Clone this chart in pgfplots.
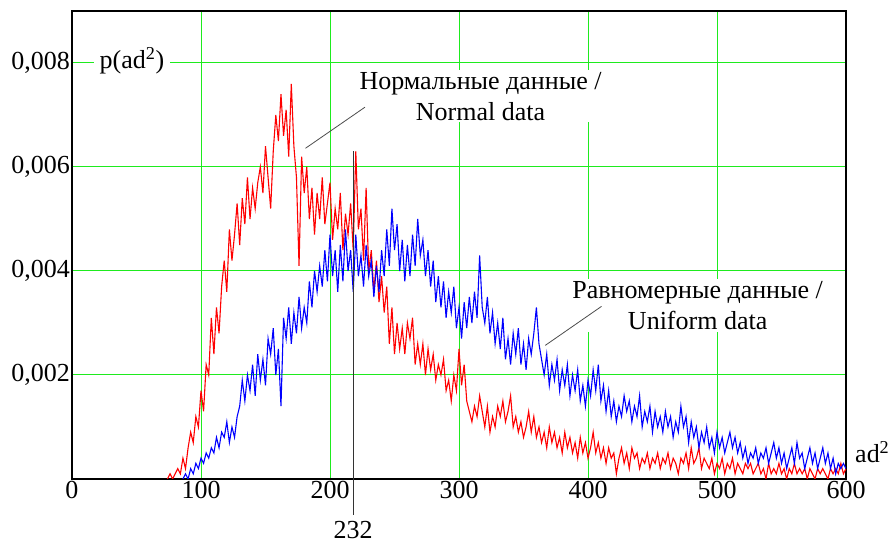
\documentclass[border=0pt]{standalone}
\usepackage{fontspec}
\setmainfont{Liberation Serif}
\usepackage{pgfplots}
\usepackage{pgfplotstable}
\pgfplotsset{compat=1.18}

\definecolor{gridgreen}{RGB}{30,235,30}

% normal data histogram
\pgfplotstableread[row sep=\\]{
x y\\
74 0\\ 76 0.0001\\ 78 0\\ 80 0.0001\\ 82 0.0002\\ 84 0.0001\\ 86 0.0004\\ 88 0.0002\\ 90 0.0006\\ 92 0.0009\\
94 0.0007\\ 96 0.0012\\ 98 0.0010\\ 100 0.0017\\ 102 0.0013\\ 104 0.0022\\ 106 0.0020\\ 108 0.0031\\ 110 0.0024\\ 112 0.0033\\
114 0.0028\\ 116 0.0037\\ 118 0.0042\\ 120 0.0036\\ 122 0.0048\\ 124 0.0042\\ 126 0.0047\\ 128 0.0053\\ 130 0.0045\\ 132 0.0054\\
134 0.0049\\ 136 0.0058\\ 138 0.0050\\ 140 0.0056\\ 142 0.0052\\ 144 0.0057\\ 146 0.0060\\ 148 0.0055\\ 150 0.0064\\ 152 0.0058\\
154 0.0052\\ 156 0.0063\\ 158 0.0070\\ 160 0.0065\\ 162 0.0074\\ 164 0.0066\\ 166 0.0071\\ 168 0.0062\\ 170 0.0076\\ 172 0.0064\\
174 0.0058\\ 176 0.0041\\ 178 0.0062\\ 180 0.0055\\ 182 0.0060\\ 184 0.0050\\ 186 0.0056\\ 188 0.0047\\ 190 0.0055\\ 192 0.0050\\
194 0.0058\\ 196 0.0049\\ 198 0.0053\\ 200 0.0057\\ 202 0.0046\\ 204 0.0052\\ 206 0.0048\\ 208 0.0055\\ 210 0.0044\\ 212 0.0051\\
214 0.0047\\ 216 0.0053\\ 218 0.0044\\ 220 0.0063\\ 222 0.0048\\ 224 0.0052\\ 226 0.0042\\ 228 0.0056\\ 230 0.0040\\ 232 0.0044\\
234 0.0036\\ 236 0.0042\\ 238 0.0034\\ 240 0.0039\\ 242 0.0032\\ 244 0.0037\\ 246 0.0026\\ 248 0.0033\\ 250 0.0024\\ 252 0.0030\\
254 0.0025\\ 256 0.0029\\ 258 0.0024\\ 260 0.0030\\ 262 0.0027\\ 264 0.0031\\ 266 0.0022\\ 268 0.0026\\ 270 0.0022\\ 272 0.0026\\
274 0.0020\\ 276 0.0025\\ 278 0.0021\\ 280 0.0024\\ 282 0.0019\\ 284 0.0022\\ 286 0.0020\\ 288 0.0023\\ 290 0.0017\\ 292 0.0019\\
294 0.0015\\ 296 0.0020\\ 298 0.0017\\ 300 0.0025\\ 302 0.0018\\ 304 0.0022\\ 306 0.0015\\ 308 0.0013\\ 310 0.0011\\ 312 0.0014\\
314 0.0012\\ 316 0.0016\\ 318 0.0013\\ 320 0.0010\\ 322 0.0014\\ 324 0.0009\\ 326 0.0012\\ 328 0.0010\\ 330 0.0014\\ 332 0.0012\\
334 0.0015\\ 336 0.0011\\ 338 0.0013\\ 340 0.0016\\ 342 0.0010\\ 344 0.0012\\ 346 0.0009\\ 348 0.0011\\ 350 0.0008\\ 352 0.0010\\
354 0.0013\\ 356 0.0009\\ 358 0.0012\\ 360 0.0008\\ 362 0.0010\\ 364 0.0007\\ 366 0.0009\\ 368 0.0006\\ 370 0.0010\\ 372 0.0007\\
374 0.0009\\ 376 0.0006\\ 378 0.0008\\ 380 0.0005\\ 382 0.0009\\ 384 0.0006\\ 386 0.0008\\ 388 0.0005\\ 390 0.0007\\ 392 0.0004\\
394 0.0008\\ 396 0.0005\\ 398 0.0007\\ 400 0.0004\\ 402 0.0006\\ 404 0.0009\\ 406 0.0005\\ 408 0.0007\\ 410 0.0004\\ 412 0.0006\\
414 0.0003\\ 416 0.0006\\ 418 0.0004\\ 420 0.0005\\ 422 0.0001\\ 424 0.0004\\ 426 0.0006\\ 428 0.0003\\ 430 0.0005\\ 432 0.0002\\
434 0.0006\\ 436 0.0004\\ 438 0.0005\\ 440 0.0002\\ 442 0.0004\\ 444 0.0003\\ 446 0.0005\\ 448 0.0002\\ 450 0.0004\\ 452 0.0003\\
454 0.0005\\ 456 0.0002\\ 458 0.0004\\ 460 0.0003\\ 462 0.0005\\ 464 0.0002\\ 466 0.0004\\ 468 0.0003\\ 470 0.0001\\ 472 0.0004\\
474 0.0003\\ 476 0.0005\\ 478 0.0002\\ 480 0.0006\\ 482 0.0003\\ 484 0.0004\\ 486 0.0006\\ 488 0.0002\\ 490 0.0004\\ 492 0.0003\\
494 0.0002\\ 496 0.0004\\ 498 0.0001\\ 500 0.0003\\ 502 0.0002\\ 504 0.0004\\ 506 0.0001\\ 508 0.0003\\ 510 0.0002\\ 512 0.0004\\
514 0.0001\\ 516 0.0003\\ 518 0.0002\\ 520 0.0001\\ 522 0.0003\\ 524 0.0002\\ 526 0.0003\\ 528 0.0001\\ 530 0.0002\\ 532 0.0003\\
534 0.0001\\ 536 0.0002\\ 538 0\\ 540 0.0003\\ 542 0.0001\\ 544 0.0002\\ 546 0.0001\\ 548 0.0003\\ 550 0.0001\\ 552 0.0002\\
554 0\\ 556 0.0002\\ 558 0.0001\\ 560 0.0003\\ 562 0.0001\\ 564 0.0002\\ 566 0.0001\\ 568 0.0002\\ 570 0\\ 572 0.0002\\
574 0.0001\\ 576 0\\ 578 0.0002\\ 580 0.0001\\ 582 0.0002\\ 584 0.0001\\ 586 0\\ 588 0.0002\\ 590 0.0001\\ 592 0.0002\\
594 0.0001\\ 596 0.0003\\ 598 0.0001\\ 600 0.0002\\
}\normaldata

% uniform data histogram
\pgfplotstableread[row sep=\\]{
x y\\
86 0\\ 88 0.0001\\ 90 0\\ 92 0.0002\\ 94 0.0001\\ 96 0.0003\\ 98 0.0002\\ 100 0.0004\\ 102 0.0003\\ 104 0.0005\\
106 0.0004\\ 108 0.0006\\ 110 0.0005\\ 112 0.0008\\ 114 0.0006\\ 116 0.0009\\ 118 0.0008\\ 120 0.0011\\ 122 0.0007\\ 124 0.0010\\
126 0.0008\\ 128 0.0012\\ 130 0.0014\\ 132 0.0019\\ 134 0.0015\\ 136 0.0020\\ 138 0.0017\\ 140 0.0022\\ 142 0.0016\\ 144 0.0024\\
146 0.0019\\ 148 0.0023\\ 150 0.0018\\ 152 0.0027\\ 154 0.0024\\ 156 0.0029\\ 158 0.0020\\ 160 0.0025\\ 162 0.0014\\ 164 0.0031\\
166 0.0027\\ 168 0.0033\\ 170 0.0026\\ 172 0.0032\\ 174 0.0028\\ 176 0.0035\\ 178 0.0029\\ 180 0.0033\\ 182 0.0030\\ 184 0.0038\\
186 0.0033\\ 188 0.0040\\ 190 0.0036\\ 192 0.0041\\ 194 0.0037\\ 196 0.0044\\ 198 0.0038\\ 200 0.0047\\ 202 0.0039\\ 204 0.0044\\
206 0.0036\\ 208 0.0045\\ 210 0.0038\\ 212 0.0048\\ 214 0.0040\\ 216 0.0044\\ 218 0.0036\\ 220 0.0047\\ 222 0.0039\\ 224 0.0043\\
226 0.0037\\ 228 0.0045\\ 230 0.0039\\ 232 0.0042\\ 234 0.0035\\ 236 0.0041\\ 238 0.0036\\ 240 0.0044\\ 242 0.0039\\ 244 0.0048\\
246 0.0041\\ 248 0.0052\\ 250 0.0044\\ 252 0.0049\\ 254 0.0040\\ 256 0.0046\\ 258 0.0038\\ 260 0.0045\\ 262 0.0039\\ 264 0.0047\\
266 0.0041\\ 268 0.0050\\ 270 0.0043\\ 272 0.0046\\ 274 0.0039\\ 276 0.0044\\ 278 0.0037\\ 280 0.0042\\ 282 0.0034\\ 284 0.0039\\
286 0.0033\\ 288 0.0038\\ 290 0.0031\\ 292 0.0036\\ 294 0.0032\\ 296 0.0037\\ 298 0.0029\\ 300 0.0033\\ 302 0.0027\\ 304 0.0034\\
306 0.0029\\ 308 0.0035\\ 310 0.0030\\ 312 0.0036\\ 314 0.0031\\ 316 0.0043\\ 318 0.0033\\ 320 0.0030\\ 322 0.0035\\ 324 0.0028\\
326 0.0032\\ 328 0.0026\\ 330 0.0030\\ 332 0.0025\\ 334 0.0031\\ 336 0.0023\\ 338 0.0027\\ 340 0.0022\\ 342 0.0028\\ 344 0.0024\\
346 0.0029\\ 348 0.0022\\ 350 0.0026\\ 352 0.0021\\ 354 0.0027\\ 356 0.0024\\ 358 0.0028\\ 360 0.0033\\ 362 0.0026\\ 364 0.0023\\
366 0.0020\\ 368 0.0024\\ 370 0.0018\\ 372 0.0022\\ 374 0.0019\\ 376 0.0023\\ 378 0.0017\\ 380 0.0021\\ 382 0.0018\\ 384 0.0022\\
386 0.0016\\ 388 0.0020\\ 390 0.0017\\ 392 0.0021\\ 394 0.0015\\ 396 0.0018\\ 398 0.0014\\ 400 0.0019\\ 402 0.0016\\ 404 0.0021\\
406 0.0017\\ 408 0.0022\\ 410 0.0015\\ 412 0.0018\\ 414 0.0013\\ 416 0.0017\\ 418 0.0012\\ 420 0.0015\\ 422 0.0011\\ 424 0.0014\\
426 0.0012\\ 428 0.0016\\ 430 0.0013\\ 432 0.0015\\ 434 0.0011\\ 436 0.0014\\ 438 0.0012\\ 440 0.0016\\ 442 0.0010\\ 444 0.0013\\
446 0.0011\\ 448 0.0014\\ 450 0.0009\\ 452 0.0013\\ 454 0.0010\\ 456 0.0012\\ 458 0.0009\\ 460 0.0013\\ 462 0.0010\\ 464 0.0012\\
466 0.0008\\ 468 0.0011\\ 470 0.0009\\ 472 0.0014\\ 474 0.0010\\ 476 0.0012\\ 478 0.0007\\ 480 0.0011\\ 482 0.0008\\ 484 0.0010\\
486 0.0006\\ 488 0.0009\\ 490 0.0007\\ 492 0.0010\\ 494 0.0006\\ 496 0.0008\\ 498 0.0005\\ 500 0.0009\\ 502 0.0006\\ 504 0.0008\\
506 0.0005\\ 508 0.0007\\ 510 0.0009\\ 512 0.0006\\ 514 0.0008\\ 516 0.0005\\ 518 0.0007\\ 520 0.0004\\ 522 0.0006\\ 524 0.0003\\
526 0.0005\\ 528 0.0004\\ 530 0.0006\\ 532 0.0003\\ 534 0.0005\\ 536 0.0004\\ 538 0.0006\\ 540 0.0003\\ 542 0.0005\\ 544 0.0007\\
546 0.0004\\ 548 0.0006\\ 550 0.0003\\ 552 0.0005\\ 554 0.0002\\ 556 0.0004\\ 558 0.0006\\ 560 0.0003\\ 562 0.0007\\ 564 0.0004\\
566 0.0005\\ 568 0.0002\\ 570 0.0004\\ 572 0.0006\\ 574 0.0003\\ 576 0.0005\\ 578 0.0002\\ 580 0.0004\\ 582 0.0006\\ 584 0.0003\\
586 0.0005\\ 588 0.0002\\ 590 0.0004\\ 592 0.0001\\ 594 0.0003\\ 596 0.0002\\ 598 0.0003\\ 600 0.0002\\
}\uniformdata

\begin{document}
\begin{tikzpicture}[lbl/.style={font=\fontsize{26}{31}\selectfont}]
\begin{axis}[
    scale only axis,
    width=774pt, height=468pt,
    xmin=0, xmax=600, ymin=0, ymax=0.009,
    xtick={0,100,...,600},
    ytick={0.002,0.004,0.006,0.008},
    scaled y ticks=false,
    yticklabel style={/pgf/number format/.cd, fixed, fixed zerofill, precision=3, use comma},
    /pgf/number format/assume math mode=true,
    tick label style={font=\fontsize{26}{30}\selectfont, inner sep=2pt},
    major tick length=0pt,
    grid=major,
    major grid style={gridgreen, line width=1pt},
    axis line style={black, line width=1.2pt},
    clip mode=individual,
]
\addplot[red, line width=1.1pt] table[x=x, y=y] {\normaldata};
\addplot[blue, line width=1.1pt] table[x=x, y=y] {\uniformdata};

% marker at the mode
\draw[black!80, line width=1pt] (axis cs:218,0.0063) -- (axis cs:218,0) -- ++(0,-36pt);
\node[lbl] at (axis cs:218,0) [yshift=-51pt] {232};

% labels
\node[lbl, fill=white, anchor=base west, inner xsep=6pt, inner ysep=4pt] at (axis cs:16.7,0.0079) {p(ad\textsuperscript{2})};
\node[lbl, anchor=base west, inner sep=0pt] at (axis cs:600,0.00032) [xshift=9pt] {ad\textsuperscript{2}};

\node[lbl, fill=white, align=center, inner sep=2pt] at (axis cs:316.7,0.00736) {Нормальные данные /\\Normal data};
\draw[black!70, line width=0.8pt] (axis cs:181,0.00636) -- (axis cs:227.1,0.00715);

\node[lbl, fill=white, align=center, inner sep=2pt] at (axis cs:485,0.00334) {Равномерные данные /\\Uniform data};
\draw[black!70, line width=0.8pt] (axis cs:366.9,0.00257) -- (axis cs:410.5,0.00332);
\end{axis}
\path (current axis.south west) ++(-72pt,-64pt) (current axis.north east) ++(47pt,11pt);
\end{tikzpicture}
\end{document}
